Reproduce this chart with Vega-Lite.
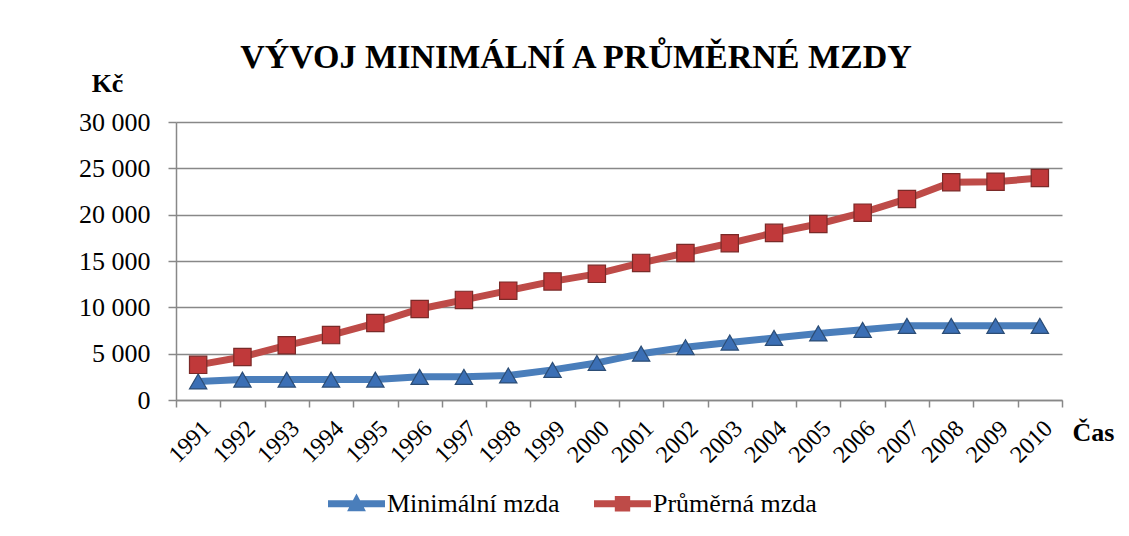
{
  "$schema": "https://vega.github.io/schema/vega-lite/v6.json",
  "width": 886,
  "height": 278,
  "autosize": {"type": "none"},
  "padding": {"left": 176, "top": 122, "right": 67, "bottom": 136},
  "background": "white",
  "title": {
    "text": "VÝVOJ MINIMÁLNÍ A PRŮMĚRNÉ MZDY",
    "font": "Liberation Serif",
    "fontSize": 34,
    "fontWeight": "bold",
    "color": "black",
    "anchor": "middle",
    "dx": -43,
    "dy": 9,
    "offset": 4
  },
  "config": {
    "view": {"stroke": null},
    "axis": {
      "labelFont": "Liberation Serif",
      "labelColor": "black",
      "titleFont": "Liberation Serif",
      "titleColor": "black",
      "domainColor": "#888888",
      "tickColor": "#888888",
      "gridColor": "#888888",
      "domainWidth": 1.5,
      "tickWidth": 1.5,
      "gridWidth": 1.5
    }
  },
  "data": {
    "values": [
      {"rok": "1991", "typ": "Minimální mzda", "mzda": 2000},
      {"rok": "1992", "typ": "Minimální mzda", "mzda": 2200},
      {"rok": "1993", "typ": "Minimální mzda", "mzda": 2200},
      {"rok": "1994", "typ": "Minimální mzda", "mzda": 2200},
      {"rok": "1995", "typ": "Minimální mzda", "mzda": 2200},
      {"rok": "1996", "typ": "Minimální mzda", "mzda": 2500},
      {"rok": "1997", "typ": "Minimální mzda", "mzda": 2500},
      {"rok": "1998", "typ": "Minimální mzda", "mzda": 2650},
      {"rok": "1999", "typ": "Minimální mzda", "mzda": 3250},
      {"rok": "2000", "typ": "Minimální mzda", "mzda": 4000},
      {"rok": "2001", "typ": "Minimální mzda", "mzda": 5000},
      {"rok": "2002", "typ": "Minimální mzda", "mzda": 5700},
      {"rok": "2003", "typ": "Minimální mzda", "mzda": 6200},
      {"rok": "2004", "typ": "Minimální mzda", "mzda": 6700},
      {"rok": "2005", "typ": "Minimální mzda", "mzda": 7185},
      {"rok": "2006", "typ": "Minimální mzda", "mzda": 7570},
      {"rok": "2007", "typ": "Minimální mzda", "mzda": 8000},
      {"rok": "2008", "typ": "Minimální mzda", "mzda": 8000},
      {"rok": "2009", "typ": "Minimální mzda", "mzda": 8000},
      {"rok": "2010", "typ": "Minimální mzda", "mzda": 8000},
      {"rok": "1991", "typ": "Průměrná mzda", "mzda": 3792},
      {"rok": "1992", "typ": "Průměrná mzda", "mzda": 4644},
      {"rok": "1993", "typ": "Průměrná mzda", "mzda": 5904},
      {"rok": "1994", "typ": "Průměrná mzda", "mzda": 7004},
      {"rok": "1995", "typ": "Průměrná mzda", "mzda": 8307},
      {"rok": "1996", "typ": "Průměrná mzda", "mzda": 9825},
      {"rok": "1997", "typ": "Průměrná mzda", "mzda": 10802},
      {"rok": "1998", "typ": "Průměrná mzda", "mzda": 11801},
      {"rok": "1999", "typ": "Průměrná mzda", "mzda": 12797},
      {"rok": "2000", "typ": "Průměrná mzda", "mzda": 13614},
      {"rok": "2001", "typ": "Průměrná mzda", "mzda": 14793},
      {"rok": "2002", "typ": "Průměrná mzda", "mzda": 15866},
      {"rok": "2003", "typ": "Průměrná mzda", "mzda": 16917},
      {"rok": "2004", "typ": "Průměrná mzda", "mzda": 18035},
      {"rok": "2005", "typ": "Průměrná mzda", "mzda": 18992},
      {"rok": "2006", "typ": "Průměrná mzda", "mzda": 20219},
      {"rok": "2007", "typ": "Průměrná mzda", "mzda": 21694},
      {"rok": "2008", "typ": "Průměrná mzda", "mzda": 23500},
      {"rok": "2009", "typ": "Průměrná mzda", "mzda": 23550},
      {"rok": "2010", "typ": "Průměrná mzda", "mzda": 23950}
    ]
  },
  "encoding": {
    "x": {
      "field": "rok",
      "type": "ordinal",
      "scale": {"type": "band", "paddingInner": 0, "paddingOuter": 0},
      "axis": {
        "title": "Čas",
        "titleAngle": 0,
        "titleX": 917,
        "titleY": 40,
        "titleAlign": "center",
        "titleBaseline": "alphabetic",
        "titleFontSize": 26,
        "titleFontWeight": "bold",
        "labelAngle": -45,
        "labelFontSize": 24,
        "labelPadding": 9,
        "labelDx": -9,
        "tickBand": "extent",
        "tickSize": 7,
        "grid": false
      }
    },
    "y": {
      "field": "mzda",
      "type": "quantitative",
      "scale": {"domain": [0, 30000], "nice": false},
      "axis": {
        "title": "Kč",
        "titleAngle": 0,
        "titleX": -69,
        "titleY": -31,
        "titleAlign": "center",
        "titleBaseline": "alphabetic",
        "titleFontSize": 26,
        "titleFontWeight": "bold",
        "values": [0, 5000, 10000, 15000, 20000, 25000, 30000],
        "labelExpr": "replace(format(datum.value, ','), ',', ' ')",
        "labelFontSize": 26,
        "labelPadding": 18,
        "tickSize": 8,
        "grid": true
      }
    }
  },
  "layer": [
    {
      "mark": {"type": "point", "filled": true, "opacity": 0},
      "encoding": {
        "color": {
          "field": "typ",
          "type": "nominal",
          "scale": {"domain": ["Minimální mzda", "Průměrná mzda"], "range": ["#4a7ebb", "#be4b48"]},
          "legend": {
            "title": null,
            "orient": "none",
            "legendX": 152,
            "legendY": 353,
            "direction": "horizontal",
            "symbolSize": 3249,
            "symbolOpacity": 1,
            "symbolStrokeWidth": 0,
            "labelFont": "Liberation Serif",
            "labelFontSize": 26,
            "labelColor": "black",
            "labelLimit": 400,
            "labelOffset": 2,
            "columnPadding": 34
          }
        },
        "shape": {
          "field": "typ",
          "type": "nominal",
          "scale": {
            "domain": ["Minimální mzda", "Průměrná mzda"],
            "range": [
              "M-1,-0.12L1,-0.12L1,0.12L-1,0.12Z M0,-0.36L0.33,0.26L-0.33,0.26Z",
              "M-1,-0.12L1,-0.12L1,0.12L-1,0.12Z M-0.27,-0.27L0.27,-0.27L0.27,0.27L-0.27,0.27Z"
            ]
          },
          "legend": {
            "title": null,
            "orient": "none",
            "legendX": 152,
            "legendY": 353,
            "direction": "horizontal",
            "symbolSize": 3249,
            "symbolOpacity": 1,
            "symbolStrokeWidth": 0,
            "labelFont": "Liberation Serif",
            "labelFontSize": 26,
            "labelColor": "black",
            "labelLimit": 400,
            "labelOffset": 2,
            "columnPadding": 34
          }
        }
      }
    },
    {
      "mark": {"type": "line", "strokeWidth": 7, "strokeCap": "round", "strokeJoin": "round"},
      "encoding": {
        "stroke": {
          "field": "typ",
          "type": "nominal",
          "scale": {"domain": ["Minimální mzda", "Průměrná mzda"], "range": ["#4a7ebb", "#be4b48"]},
          "legend": null
        }
      }
    },
    {
      "mark": {"type": "point", "filled": true, "opacity": 1, "strokeWidth": 1.2, "size": 300},
      "encoding": {
        "detail": {"field": "typ", "type": "nominal"},
        "shape": {"condition": {"test": "datum.typ === 'Minimální mzda'", "value": "triangle-up"}, "value": "square"},
        "fill": {"condition": {"test": "datum.typ === 'Minimální mzda'", "value": "#3b6fb5"}, "value": "#c0393a"},
        "stroke": {"condition": {"test": "datum.typ === 'Minimální mzda'", "value": "#2c4d75"}, "value": "#7a2a28"}
      }
    }
  ],
  "resolve": {"scale": {"stroke": "independent"}}
}
